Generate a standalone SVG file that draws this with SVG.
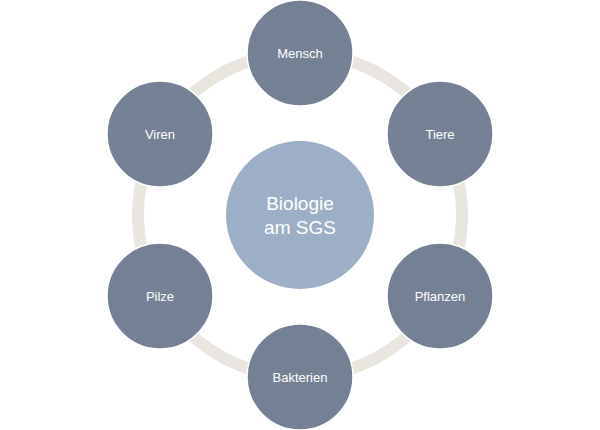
<svg xmlns="http://www.w3.org/2000/svg" width="600" height="430" viewBox="0 0 600 430">
<style>
.n{fill:#748195;stroke:#fff;stroke-width:1.5}
.t{font-family:"Liberation Sans","Open Sans",sans-serif;font-size:13px;fill:#fff;text-anchor:middle;dominant-baseline:central}
</style>
<rect width="600" height="430" fill="#fff"/>
<g id="connectors"><circle cx="300" cy="215" r="162" fill="none" stroke="#e9e6e0" stroke-width="12"/></g>
<g id="center"><circle cx="300" cy="215" r="74" fill="#9cafc6"/><text class="t" x="300" y="203" style="font-size:19px">Biologie</text><text class="t" x="300" y="227" style="font-size:19px">am SGS</text></g>
<g id="mensch"><circle class="n" cx="300" cy="53" r="53"/><text class="t" x="300" y="53">Mensch</text></g>
<g id="tiere"><circle class="n" cx="440" cy="134" r="53"/><text class="t" x="440" y="134">Tiere</text></g>
<g id="pflanzen"><circle class="n" cx="440" cy="296" r="53"/><text class="t" x="440" y="296">Pflanzen</text></g>
<g id="bakterien"><circle class="n" cx="300" cy="377" r="53"/><text class="t" x="300" y="377">Bakterien</text></g>
<g id="pilze"><circle class="n" cx="160" cy="296" r="53"/><text class="t" x="160" y="296">Pilze</text></g>
<g id="viren"><circle class="n" cx="160" cy="134" r="53"/><text class="t" x="160" y="134">Viren</text></g>
</svg>
